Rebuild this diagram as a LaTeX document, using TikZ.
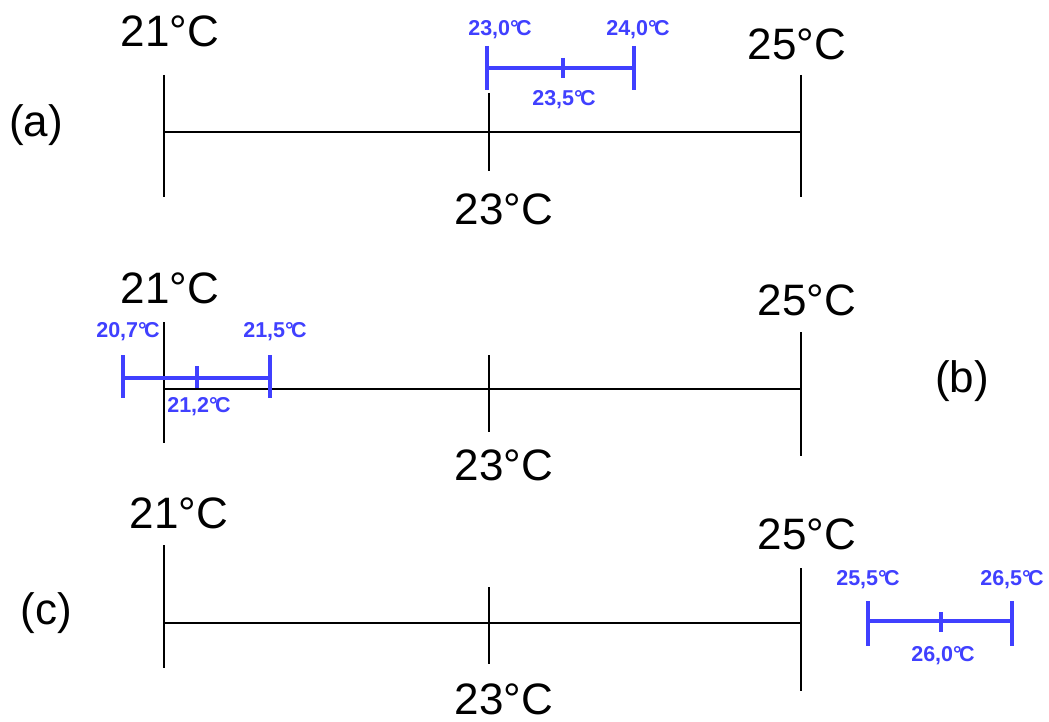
\documentclass[tikz,border=0pt]{standalone}
\usepackage{fontspec}
\setmainfont{Liberation Sans}
\definecolor{bl}{RGB}{64,64,255}
\newcommand{\dgc}{°\kern-0.12em C}
\begin{document}
\begin{tikzpicture}[x=1pt,y=-1pt,
  big/.style={inner sep=0pt, font=\fontsize{44}{48}\selectfont},
  small/.style={inner sep=0pt, text=bl, font=\bfseries\fontsize{21.5}{24}\selectfont},
  axis/.style={line width=1.8pt, black},
  err/.style={line width=3.5pt, bl}]
\useasboundingbox (0,0) rectangle (1049,722);

% ---------- panel (a) ----------
\coordinate (aL) at (164,132); \coordinate (aR) at (801,132);
\coordinate (aLt) at (164,75); \coordinate (aLb) at (164,197);
\coordinate (aMt) at (489,93); \coordinate (aMb) at (489,171);
\coordinate (aRt) at (801,75); \coordinate (aRb) at (801,197);
\draw[axis] (aL) -- (aR);
\draw[axis] (aLt) -- (aLb);
\draw[axis] (aMt) -- (aMb);
\draw[axis] (aRt) -- (aRb);
\node[big] (a21) at (170,31) {21°C};
\node[big] (a25) at (797,44) {25°C};
\node[big] (a23) at (504,209) {23°C};
\node[big] (alab) at (36,125) {(a)};
% error bar
\coordinate (eaL) at (487,68); \coordinate (eaR) at (634,68);
\coordinate (eaLt) at (487,46); \coordinate (eaLb) at (487,90);
\coordinate (eaRt) at (634,46); \coordinate (eaRb) at (634,90);
\coordinate (eaMt) at (563,58); \coordinate (eaMb) at (563,78);
\draw[err] (eaL) -- (eaR);
\draw[err] (eaLt) -- (eaLb);
\draw[err] (eaRt) -- (eaRb);
\draw[err] (eaMt) -- (eaMb);
\node[small] (ea1) at (500,30) {23,0\dgc};
\node[small] (ea2) at (638,30) {24,0\dgc};
\node[small] (ea3) at (564,100) {23,5\dgc};

% ---------- panel (b) ----------
\coordinate (bL) at (164,389); \coordinate (bR) at (801,389);
\coordinate (bLt) at (164,322); \coordinate (bLb) at (164,443);
\coordinate (bMt) at (489,355); \coordinate (bMb) at (489,432);
\coordinate (bRt) at (801,332); \coordinate (bRb) at (801,456);
\draw[axis] (bL) -- (bR);
\draw[axis] (bLt) -- (bLb);
\draw[axis] (bMt) -- (bMb);
\draw[axis] (bRt) -- (bRb);
\node[big] (b21) at (170,288) {21°C};
\node[big] (b25) at (807,300) {25°C};
\node[big] (b23) at (504,465) {23°C};
\node[big] (blab) at (962,381) {(b)};
% error bar
\coordinate (ebL) at (123,378); \coordinate (ebR) at (270,378);
\coordinate (ebLt) at (123,355); \coordinate (ebLb) at (123,398);
\coordinate (ebRt) at (270,355); \coordinate (ebRb) at (270,398);
\coordinate (ebMt) at (197,366); \coordinate (ebMb) at (197,388);
\draw[err] (ebL) -- (ebR);
\draw[err] (ebLt) -- (ebLb);
\draw[err] (ebRt) -- (ebRb);
\draw[err] (ebMt) -- (ebMb);
\node[small] (eb1) at (128,332) {20,7\dgc};
\node[small] (eb2) at (275,332) {21,5\dgc};
\node[small] (eb3) at (199,407) {21,2\dgc};

% ---------- panel (c) ----------
\coordinate (cL) at (164,623); \coordinate (cR) at (801,623);
\coordinate (cLt) at (164,545); \coordinate (cLb) at (164,668);
\coordinate (cMt) at (489,587); \coordinate (cMb) at (489,664);
\coordinate (cRt) at (801,568); \coordinate (cRb) at (801,691);
\draw[axis] (cL) -- (cR);
\draw[axis] (cLt) -- (cLb);
\draw[axis] (cMt) -- (cMb);
\draw[axis] (cRt) -- (cRb);
\node[big] (c21) at (179,513) {21°C};
\node[big] (c25) at (807,534) {25°C};
\node[big] (c23) at (504,699) {23°C};
\node[big] (clab) at (46,613) {(c)};
% error bar
\coordinate (ecL) at (868,621); \coordinate (ecR) at (1012,621);
\coordinate (ecLt) at (868,601); \coordinate (ecLb) at (868,646);
\coordinate (ecRt) at (1012,601); \coordinate (ecRb) at (1012,646);
\coordinate (ecMt) at (941,612); \coordinate (ecMb) at (941,632);
\draw[err] (ecL) -- (ecR);
\draw[err] (ecLt) -- (ecLb);
\draw[err] (ecRt) -- (ecRb);
\draw[err] (ecMt) -- (ecMb);
\node[small] (ec1) at (868,580) {25,5\dgc};
\node[small] (ec2) at (1012,580) {26,5\dgc};
\node[small] (ec3) at (943,656) {26,0\dgc};
\end{tikzpicture}
\end{document}
